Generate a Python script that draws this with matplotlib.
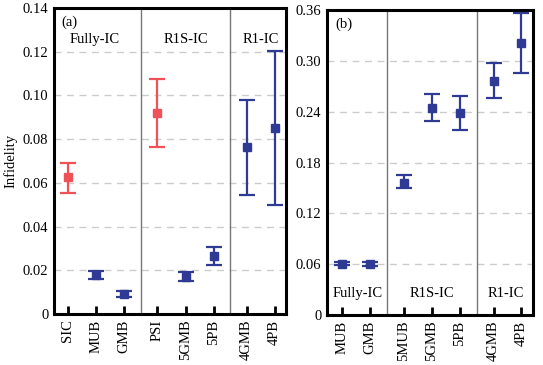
import numpy as np
import matplotlib.pyplot as plt
from matplotlib.ticker import FuncFormatter

plt.rcParams['font.family'] = ['Liberation Serif', 'DejaVu Serif']

RED = '#ef5158'
BLUE = '#2f3a94'

# panel (a)
labels_a = ['SIC', 'MUB', 'GMB', 'PSI', '5GMB', '5PB', '4GMB', '4PB']
mean_a = [0.0627, 0.0180, 0.0093, 0.0918, 0.0170, 0.0265, 0.0765, 0.0852]
low_a = [0.0555, 0.0162, 0.0080, 0.0762, 0.0150, 0.0222, 0.0546, 0.0497]
high_a = [0.0689, 0.0197, 0.0106, 0.1077, 0.0194, 0.0307, 0.0978, 0.1205]
color_a = [RED, BLUE, BLUE, RED, BLUE, BLUE, BLUE, BLUE]
groups_a = ['Fully-IC', 'R1S-IC', 'R1-IC']

# panel (b)
labels_b = ['MUB', 'GMB', '5MUB', '5GMB', '5PB', '4GMB', '4PB']
mean_b = [0.0605, 0.0600, 0.1560, 0.2447, 0.2388, 0.2762, 0.3207]
low_b = [0.0590, 0.0580, 0.1495, 0.2290, 0.2187, 0.2558, 0.2853]
high_b = [0.0620, 0.0620, 0.1650, 0.2605, 0.2590, 0.2970, 0.3560]
groups_b = ['Fully-IC', 'R1S-IC', 'R1-IC']

fig = plt.figure(figsize=(5.43, 3.65), dpi=100)
ax1 = fig.add_axes([54/543, 1-314/365, (286-54)/543, (314-8)/365])
ax2 = fig.add_axes([327/543, 1-315/365, (533-327)/543, (315-10)/365])


def panel(ax, pos, mean, low, high, colors, labels, seps, ylim, yticks, fmt):
    for x, m, lo, hi, c in zip(pos, mean, low, high, colors):
        ax.errorbar([x], [m], yerr=[[m - lo], [hi - m]], fmt='s', color=c,
                    ms=5.5, lw=1.6, capsize=5.5, capthick=1.6, zorder=3)
    for s in seps:
        ax.axvline(s, color='#777777', lw=1.0, zorder=1)
    for t in yticks[1:-1]:
        ax.axhline(t, color='#cccccc', lw=1.0, ls=(0, (5, 4)), zorder=0)
    ax.set_ylim(*ylim)
    ax.set_yticks(yticks)
    ax.yaxis.set_major_formatter(FuncFormatter(fmt))
    ax.set_xticks(pos)
    ax.set_xticklabels(labels, rotation=90, fontsize=10.5)
    ax.tick_params(axis='x', direction='in', length=6, width=2, pad=4)
    ax.tick_params(axis='y', length=0, labelsize=10.5, pad=4)
    for sp in ax.spines.values():
        sp.set_linewidth(2.2)


pos_a = [0, 1, 2, 3.18, 4.2, 5.2, 6.38, 7.38]
panel(ax1, pos_a, mean_a, low_a, high_a, color_a, labels_a, [2.6, 5.79],
      (0, 0.14), np.arange(0, 0.1401, 0.02),
      lambda v, p: '0' if v == 0 else '%.2f' % v)
ax1.set_xlim(-0.5, 7.79)
ax1.set_ylabel('Infidelity', fontsize=10.5, labelpad=4)
ax1.text(0.03, 0.975, '(a)', transform=ax1.transAxes, ha='left', va='top', fontsize=10.5)
for xc, g in zip([0.95, 4.2, 6.88], groups_a):
    ax1.text(xc, 0.1225, g, ha='center', va='bottom', fontsize=10.5)

pos_b = [0, 1, 2.24, 3.26, 4.28, 5.52, 6.52]
panel(ax2, pos_b, mean_b, low_b, high_b, [BLUE] * 7, labels_b, [1.64, 4.9],
      (0, 0.36), np.arange(0, 0.3601, 0.06),
      lambda v, p: '0' if v == 0 else '%.2f' % v)
ax2.set_xlim(-0.55, 6.95)
ax2.text(0.04, 0.975, '(b)', transform=ax2.transAxes, ha='left', va='top', fontsize=10.5)
for xc, g in zip([0.55, 3.26, 5.95], groups_b):
    ax2.text(xc, 0.018, g, ha='center', va='bottom', fontsize=10.5)

fig.savefig('out.png', dpi=100)
